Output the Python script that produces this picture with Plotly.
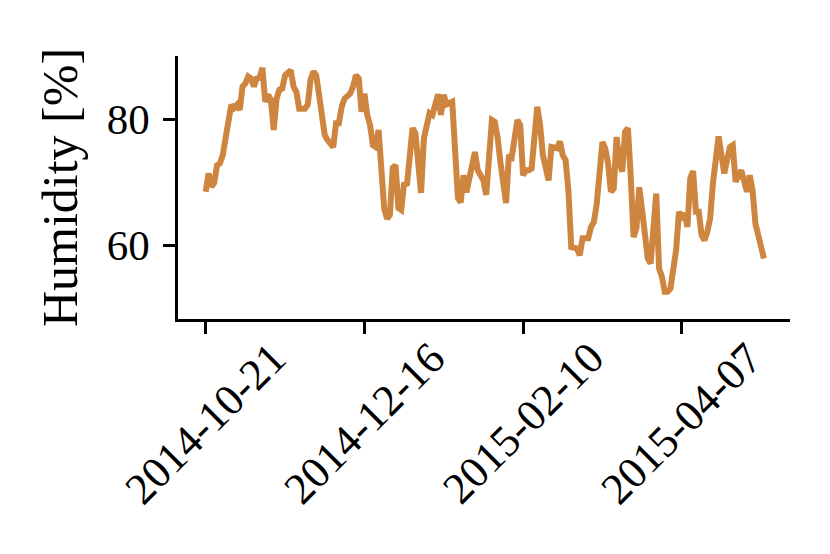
"""
Humidade relativa diária (%) — out/2014 a mai/2015
"""

import pandas as pd
import plotly.graph_objects as go

# ── Dados ────────────────────────────────────────────────────────────────────

START_DATE = "2014-10-21"

# dias desde START_DATE
DAY_OFFSETS = [
    0, 1, 2, 3, 4, 5, 6, 8, 9, 10, 11, 12, 13, 14, 15, 16, 17, 18, 19, 20,
    21, 22, 23, 24, 25, 26, 27, 28, 30, 31, 32, 33, 35, 36, 37, 38, 39, 40, 42, 43,
    45, 46, 47, 48, 49, 51, 52, 53, 54, 55, 56, 57, 58, 59, 60, 61, 62, 63, 64, 65,
    66, 67, 68, 69, 70, 71, 73, 74, 76, 77, 79, 80, 82, 83, 84, 85, 87, 89, 90, 91,
    92, 93, 95, 96, 98, 99, 100, 101, 102, 103, 104, 106, 107, 108, 110, 111, 112, 113, 114, 115,
    117, 118, 119, 121, 122, 124, 125, 126, 127, 128, 129, 131, 132, 133, 135, 136, 137, 138, 140, 141,
    142, 143, 144, 145, 146, 147, 148, 149, 150, 151, 152, 153, 154, 155, 156, 157, 159, 160, 161, 162,
    163, 164, 166, 167, 168, 169, 170, 171, 172, 173, 174, 175, 176, 177, 178, 179, 181, 183, 185, 186,
    187, 189, 190, 191, 192, 193, 194, 196, 197,
]

HUMIDITY = [
    68.5, 71.4, 69.3, 69.9, 72.7, 73.0, 74.3, 80.7, 82.3, 81.8, 82.3, 81.5, 85.2, 85.7, 86.8, 86.5, 85.2, 86.5, 86.6, 88.2,
    82.8, 83.9, 83.1, 78.3, 83.3, 84.7, 84.9, 87.0, 87.8, 85.2, 84.4, 81.7, 81.7, 82.3, 86.3, 87.6, 87.0, 83.9, 77.5, 76.7,
    75.6, 79.4, 79.4, 82.0, 83.3, 84.1, 85.2, 87.0, 86.5, 81.2, 84.1, 80.7, 79.1, 75.9, 75.6, 78.3, 71.7, 65.8, 64.2, 64.8,
    72.3, 72.7, 65.9, 65.6, 69.9, 69.5, 78.6, 77.8, 68.3, 77.0, 81.0, 80.7, 84.0, 80.7, 83.9, 82.4, 82.8, 67.5, 66.8, 71.1,
    68.4, 70.7, 74.8, 71.9, 70.3, 68.0, 75.4, 79.9, 79.6, 77.2, 73.2, 66.7, 74.3, 74.0, 79.9, 79.1, 71.1, 71.9, 71.9, 72.2,
    82.0, 79.1, 74.3, 70.3, 75.6, 75.4, 76.5, 74.3, 73.5, 68.7, 59.7, 59.5, 58.4, 61.1, 61.1, 62.9, 63.7, 66.6, 76.4, 75.4,
    73.0, 68.5, 69.0, 77.2, 73.3, 71.7, 78.0, 78.6, 70.9, 61.3, 62.7, 69.2, 65.6, 60.5, 57.9, 57.1, 68.2, 56.3, 55.0, 52.6,
    52.6, 53.1, 59.2, 65.3, 64.5, 65.0, 62.9, 70.6, 71.8, 65.3, 65.3, 61.6, 60.8, 62.1, 64.2, 69.8, 77.3, 71.4, 75.6, 75.9,
    70.1, 71.9, 70.1, 68.5, 71.1, 68.7, 63.4, 59.7, 57.9,
]

TICK_DATES  = ["2014-10-21", "2014-12-16", "2015-02-10", "2015-04-07"]
TICK_LABELS = ["2014-10-21", "2014-12-16", "2015-02-10", "2015-04-07"]
Y_TICKS     = [60, 80]

X_RANGE = ["2014-10-11 05:15", "2015-05-15 04:50"]
Y_RANGE = [48.27, 90.07]

# ── Estilo ───────────────────────────────────────────────────────────────────

COR_LINHA = "#CD853F"
FONTE     = "Liberation Serif, Times New Roman, serif"

# ── Figura ───────────────────────────────────────────────────────────────────

datas = pd.Timestamp(START_DATE) + pd.to_timedelta(DAY_OFFSETS, unit="D")

fig = go.Figure()

fig.add_trace(go.Scatter(
    x=datas,
    y=HUMIDITY,
    mode="lines",
    line=dict(color=COR_LINHA, width=6),
    showlegend=False,
))

# rótulos do eixo x centrados no tick, a 45°
for data, texto in zip(TICK_DATES, TICK_LABELS):
    fig.add_annotation(
        x=data, xref="x",
        y=0, yref="paper",
        text=texto,
        textangle=-45,
        showarrow=False,
        xanchor="center", yanchor="top",
        yshift=-12,
        font=dict(family=FONTE, size=44, color="black"),
    )

# a página HTML tem 8 px de margem no body: figura um pouco menor
fig.update_layout(
    width=822, height=546,
    margin=dict(l=170, r=40, t=48, b=235),
    paper_bgcolor="white",
    plot_bgcolor="white",
    font=dict(family=FONTE, color="black"),
    xaxis=dict(
        type="date",
        range=X_RANGE,
        tickvals=TICK_DATES,
        showticklabels=False,
        ticks="outside", ticklen=12, tickwidth=2.5, tickcolor="black",
        showline=True, linecolor="black", linewidth=2.5,
        showgrid=False, zeroline=False,
    ),
    yaxis=dict(
        range=Y_RANGE,
        tickvals=Y_TICKS,
        ticks="outside", ticklen=12, tickwidth=2.5, tickcolor="black",
        tickfont=dict(size=43),
        ticklabelstandoff=5,
        showline=True, linecolor="black", linewidth=2.5,
        showgrid=False, zeroline=False,
        title=dict(text="Humidity [%]", font=dict(size=50), standoff=14),
    ),
)

fig.write_html("out.html")
